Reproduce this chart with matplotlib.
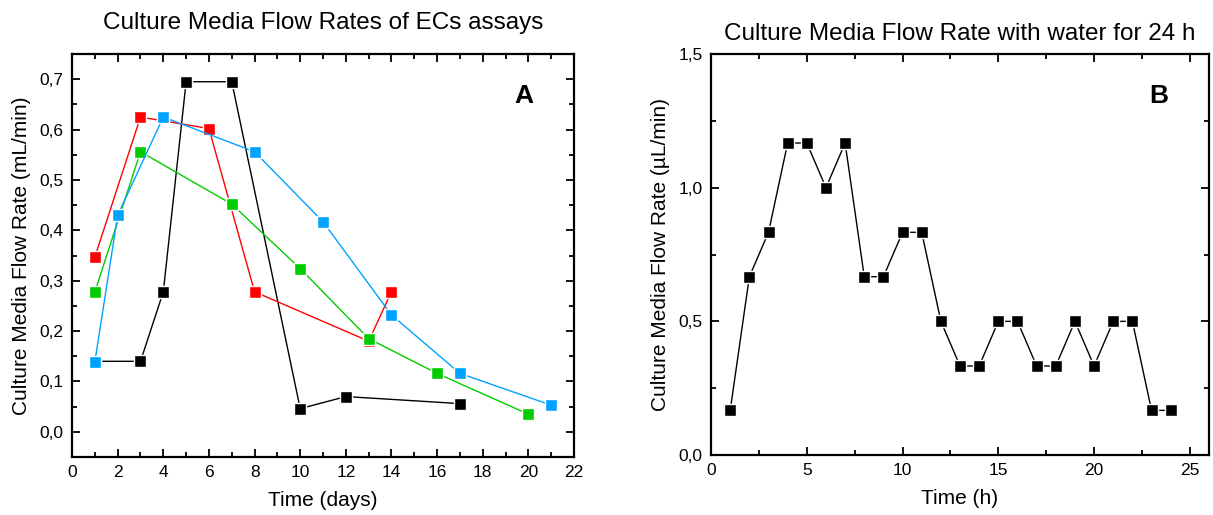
import matplotlib
matplotlib.use("Agg")
import matplotlib.pyplot as plt
from matplotlib.ticker import MultipleLocator, FuncFormatter

plt.rcParams["font.family"] = ["Liberation Sans", "DejaVu Sans"]

# Panel A: culture media flow rates of EC assays (mL/min)
black_days = [1, 3, 4, 5, 7, 10, 12, 17]
black_rate = [0.140, 0.140, 0.278, 0.695, 0.695, 0.046, 0.070, 0.056]
red_days = [1, 3, 6, 8, 13, 14]
red_rate = [0.347, 0.625, 0.602, 0.278, 0.180, 0.278]
green_days = [1, 3, 7, 10, 13, 16, 20]
green_rate = [0.278, 0.556, 0.452, 0.324, 0.185, 0.116, 0.035]
blue_days = [1, 2, 4, 8, 11, 14, 17, 21]
blue_rate = [0.139, 0.430, 0.625, 0.556, 0.417, 0.232, 0.116, 0.053]

# Panel B: flow rate with water over 24 h (uL/min)
hours = list(range(1, 25))
water_rate = [0.167, 0.667, 0.833, 1.167, 1.167, 1.000, 1.167, 0.667,
              0.667, 0.833, 0.833, 0.500, 0.333, 0.333, 0.500, 0.500,
              0.333, 0.333, 0.500, 0.333, 0.500, 0.500, 0.167, 0.167]


def comma_fmt(decimals):
    return FuncFormatter(lambda v, pos: f"{v:.{decimals}f}".replace(".", ","))


def style_axes(ax):
    for sp in ax.spines.values():
        sp.set_linewidth(1.6)
    ax.tick_params(which="both", direction="in", top=True, right=True,
                   width=1.3, labelsize=12.5, pad=6)
    ax.tick_params(which="major", length=6)
    ax.tick_params(which="minor", length=3.5)


fig = plt.figure(figsize=(12.13, 5.15), dpi=100)
ax_a = fig.add_axes([0.0594, 0.1126, 0.4138, 0.7825])
ax_b = fig.add_axes([0.5862, 0.1165, 0.4105, 0.7786])

marker_kw = dict(marker="s", markersize=8, markeredgecolor="white",
                 markeredgewidth=1.0, linewidth=1.0)

ax_a.plot(black_days, black_rate, color="black", **marker_kw)
ax_a.plot(red_days, red_rate, color="#ff0000", **marker_kw)
ax_a.plot(green_days, green_rate, color="#00cc00", **marker_kw)
ax_a.plot(blue_days, blue_rate, color="#00a2ff", **marker_kw)

ax_a.set_xlim(0, 22)
ax_a.set_ylim(-0.05, 0.75)
ax_a.xaxis.set_major_locator(MultipleLocator(2))
ax_a.xaxis.set_minor_locator(MultipleLocator(1))
ax_a.yaxis.set_major_locator(MultipleLocator(0.1))
ax_a.yaxis.set_minor_locator(MultipleLocator(0.05))
ax_a.yaxis.set_major_formatter(comma_fmt(1))
style_axes(ax_a)
ax_a.set_xlabel("Time (days)", fontsize=15, labelpad=8)
ax_a.set_ylabel("Culture Media Flow Rate (mL/min)", fontsize=15, labelpad=6)
ax_a.set_title("Culture Media Flow Rates of ECs assays", fontsize=17.5, pad=18)
ax_a.text(0.9, 0.895, "A", transform=ax_a.transAxes, fontsize=19,
          fontweight="bold", ha="center", va="center")

ax_b.plot(hours, water_rate, color="black", **marker_kw)
ax_b.set_xlim(0, 26)
ax_b.set_ylim(0, 1.5)
ax_b.xaxis.set_major_locator(MultipleLocator(5))
ax_b.xaxis.set_minor_locator(MultipleLocator(2.5))
ax_b.yaxis.set_major_locator(MultipleLocator(0.5))
ax_b.yaxis.set_minor_locator(MultipleLocator(0.25))
ax_b.yaxis.set_major_formatter(comma_fmt(1))
style_axes(ax_b)
ax_b.set_xlabel("Time (h)", fontsize=15, labelpad=8)
ax_b.set_ylabel("Culture Media Flow Rate (\u00b5L/min)", fontsize=15, labelpad=6)
ax_b.set_title("Culture Media Flow Rate with water for 24 h", fontsize=17.5, pad=10)
ax_b.text(0.9, 0.895, "B", transform=ax_b.transAxes, fontsize=19,
          fontweight="bold", ha="center", va="center")

fig.savefig("out.png", dpi=100)
